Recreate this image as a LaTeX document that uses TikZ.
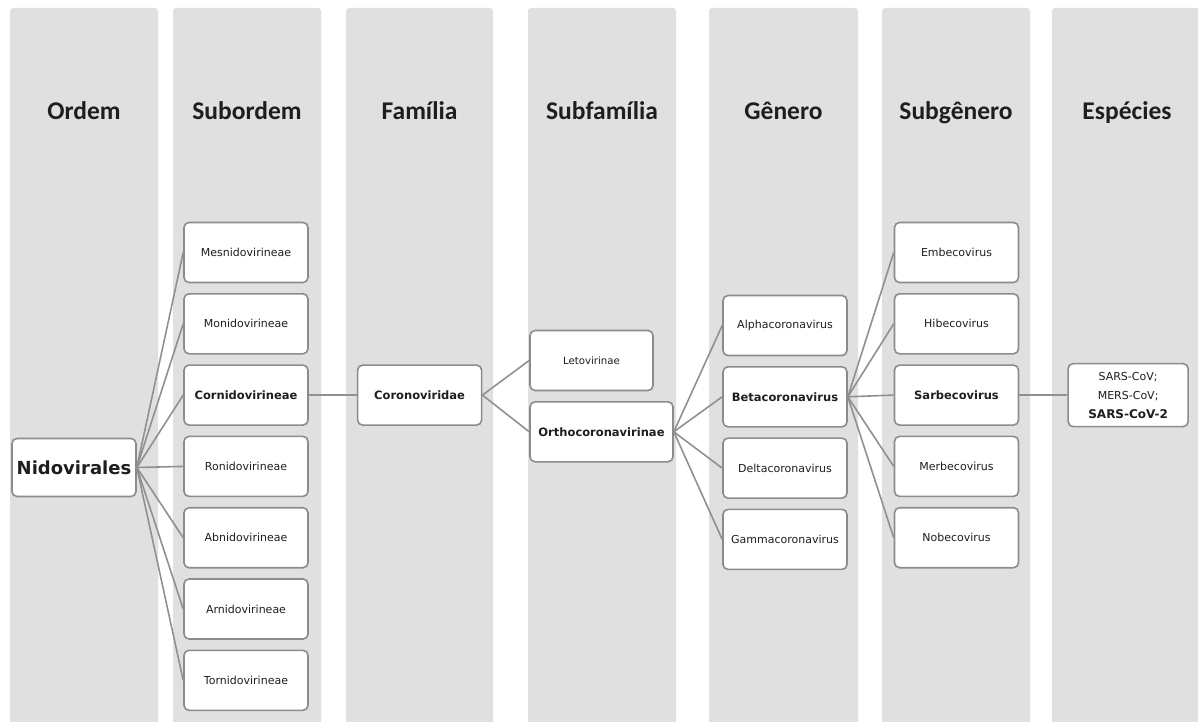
\documentclass[tikz,border=0pt]{standalone}
\usepackage{fontspec}
\setmainfont{DejaVu Sans}
\newfontfamily\headfont{Carlito}
\usetikzlibrary{positioning}
\definecolor{colbg}{HTML}{E0E0E0}
\definecolor{boxbd}{HTML}{8C8C8C}
\definecolor{linkc}{HTML}{909090}
\definecolor{ink}{HTML}{1E1E1E}
\tikzset{
  rankcol/.style={fill=colbg, rounded corners=3pt},
  rankhead/.style={anchor=base, font=\headfont\bfseries\fontsize{25.5}{30}\selectfont, text=ink},
  taxbox/.style={
    draw=boxbd, fill=white, line width=1.6pt, rounded corners=5pt,
    minimum width=124pt, minimum height=60pt, inner sep=2pt,
    align=center, text=ink, font=\fontsize{11}{14}\selectfont
  },
  keybox/.style={taxbox, font=\bfseries\fontsize{11.5}{14}\selectfont},
  link/.style={draw=linkc, line width=1.6pt}
}

\begin{document}
\begin{tikzpicture}[x=1pt, y=-1pt, node distance=9.7pt]
  \useasboundingbox (0,0) rectangle (1198,722);

  % rank columns
  \fill[rankcol] (10,8) rectangle (158,740);
  \fill[rankcol] (173,8) rectangle (321,740);
  \fill[rankcol] (346,8) rectangle (493,740);
  \fill[rankcol] (528,8) rectangle (676,740);
  \fill[rankcol] (709,8) rectangle (858,740);
  \fill[rankcol] (882,8) rectangle (1030,740);
  \fill[rankcol] (1052,8) rectangle (1210,740);

  \node[rankhead] (hordem) at (84,120) {Ordem};
  \node[rankhead] (hsubordem) at (247,120) {Subordem};
  \node[rankhead] (hfamilia) at (419.5,120) {Família};
  \node[rankhead] (hsubfamilia) at (602,120) {Subfamília};
  \node[rankhead] (hgenero) at (783.5,120) {Gênero};
  \node[rankhead] (hsubgenero) at (956,120) {Subgênero};
  \node[rankhead] (hespecies) at (1127,120) {Espécies};

  % order
  \node[taxbox, minimum height=58pt, font=\bfseries\fontsize{18}{22}\selectfont] (nido) at (74,467.5) {Nidovirales};

  % suborders
  \node[taxbox] (mesni) at (246,252.5) {Mesnidovirineae};
  \node[taxbox, below=of mesni] (moni) {Monidovirineae};
  \node[keybox, below=of moni] (corni) {Cornidovirineae};
  \node[taxbox, below=of corni] (roni) {Ronidovirineae};
  \node[taxbox, below=of roni] (abni) {Abnidovirineae};
  \node[taxbox, below=of abni] (arni) {Arnidovirineae};
  \node[taxbox, below=of arni] (torni) {Tornidovirineae};

  % family and subfamilies
  \node[keybox, right=48pt of corni] (corono) {Coronoviridae};
  \node[taxbox, minimum width=123pt, font=\fontsize{10.2}{12}\selectfont] (leto) at (591.5,360.5) {Letovirinae};
  \node[keybox, minimum width=143pt, below=of leto.south west, anchor=north west] (ortho) {Orthocoronavirinae};

  % genera
  \node[taxbox] (alpha) at (785,325.5) {Alphacoronavirus};
  \node[keybox, below=of alpha] (beta) {Betacoronavirus};
  \node[taxbox, below=of beta] (delta) {Deltacoronavirus};
  \node[taxbox, below=of delta] (gamma) {Gammacoronavirus};

  % subgenera
  \node[taxbox] (embe) at (956.5,252.5) {Embecovirus};
  \node[taxbox, below=of embe] (hibe) {Hibecovirus};
  \node[keybox, below=of hibe] (sarbe) {Sarbecovirus};
  \node[taxbox, below=of sarbe] (merbe) {Merbecovirus};
  \node[taxbox, below=of merbe] (nobe) {Nobecovirus};

  % species
  \node[taxbox, minimum width=120pt, minimum height=63pt, font=\fontsize{11}{19}\selectfont,
        right=48pt of sarbe] (sars) {SARS-CoV;\\MERS-CoV;\\\textbf{\fontsize{12}{19}\selectfont SARS-CoV-2}};

  \draw[link] (nido.east) -- (mesni.west);
  \draw[link] (nido.east) -- (moni.west);
  \draw[link] (nido.east) -- (corni.west);
  \draw[link] (nido.east) -- (roni.west);
  \draw[link] (nido.east) -- (abni.west);
  \draw[link] (nido.east) -- (arni.west);
  \draw[link] (nido.east) -- (torni.west);

  \draw[link] (corni) -- (corono);
  \draw[link] (corono.east) -- (leto.west);
  \draw[link] (corono.east) -- (ortho.west);

  \draw[link] (ortho.east) -- (alpha.west);
  \draw[link] (ortho.east) -- (beta.west);
  \draw[link] (ortho.east) -- (delta.west);
  \draw[link] (ortho.east) -- (gamma.west);

  \draw[link] (beta.east) -- (embe.west);
  \draw[link] (beta.east) -- (hibe.west);
  \draw[link] (beta.east) -- (sarbe.west);
  \draw[link] (beta.east) -- (merbe.west);
  \draw[link] (beta.east) -- (nobe.west);

  \draw[link] (sarbe) -- (sars);
\end{tikzpicture}
\end{document}
